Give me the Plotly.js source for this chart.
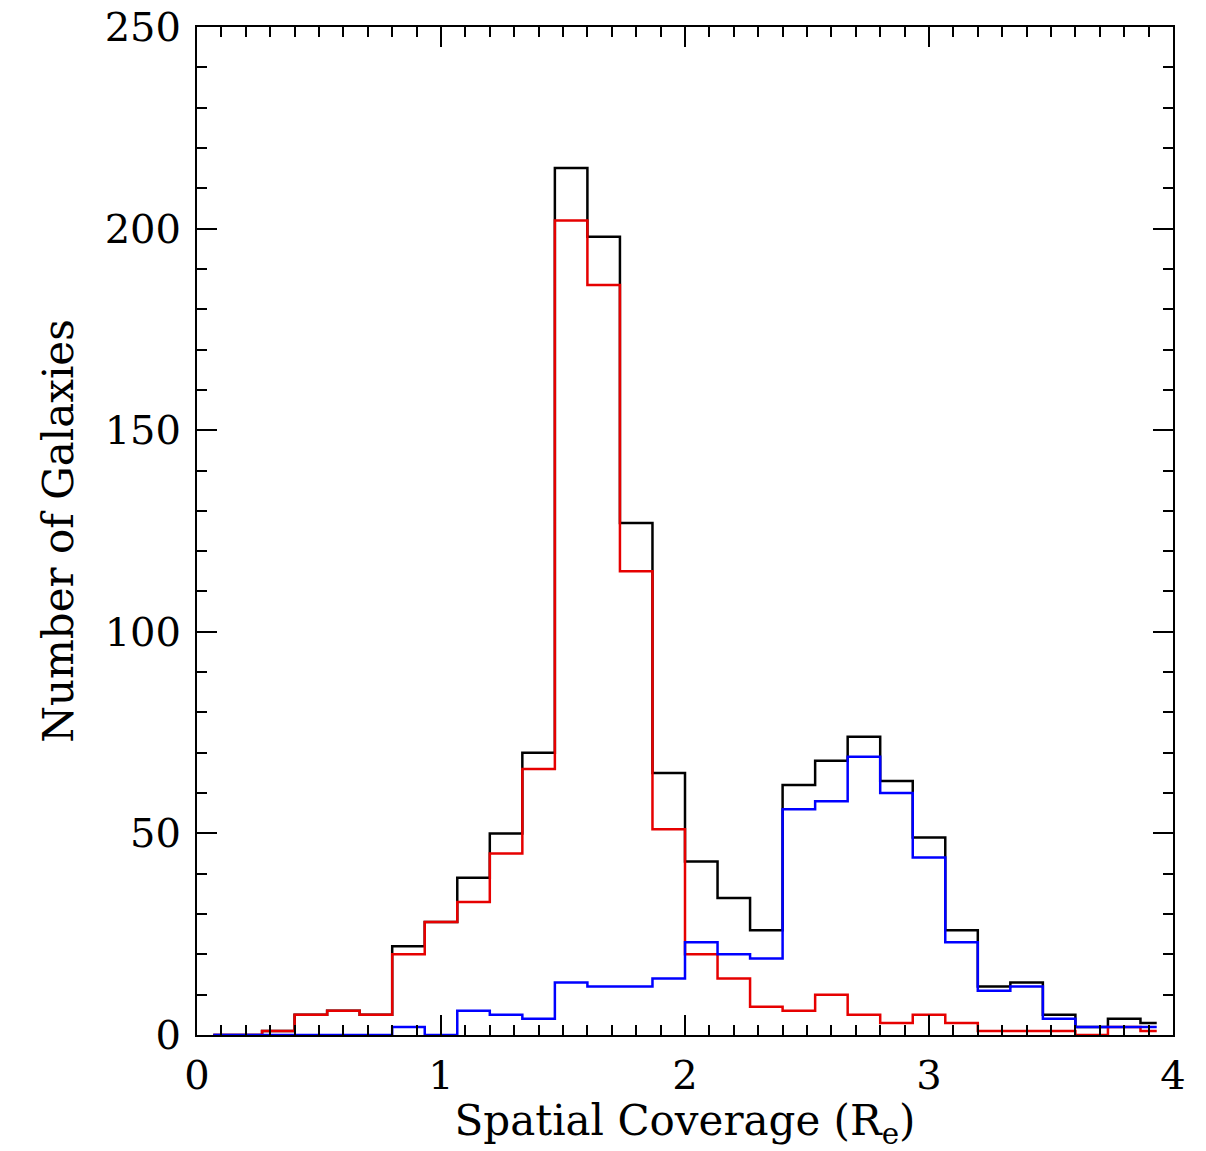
<!DOCTYPE html>
<html>
<head>
<meta charset="utf-8">
<script src="https://cdn.plot.ly/plotly-3.0.1.min.js"></script>
<style>
  html, body { margin: 0; padding: 0; background: #fff; }
  #plot { width: 1206px; height: 1151px; }
</style>
</head>
<body>
<div id="plot"></div>
<script>
// bin centres, width 2/15 (IDL psym=10 style histogram)
var binCenters = [];
for (var k = 0; k < 30; k++) binCenters.push((2 * k + 1) / 15);

var totalCounts = [0, 0, 1, 5, 6, 5, 22, 28, 39, 50, 70, 215, 198, 127, 65,
                   43, 34, 26, 62, 68, 74, 63, 49, 26, 12, 13, 5, 2, 4, 3];
var redCounts   = [0, 0, 1, 5, 6, 5, 20, 28, 33, 45, 66, 202, 186, 115, 51,
                   20, 14, 7, 6, 10, 5, 3, 5, 3, 1, 1, 1, 0, 2, 1];
var blueCounts  = [0, 0, 0, 0, 0, 0, 2, 0, 6, 5, 4, 13, 12, 12, 14,
                   23, 20, 19, 56, 58, 69, 60, 44, 23, 11, 12, 4, 2, 2, 2];

var fnt = "DejaVu Serif, Liberation Serif, serif";

function stepTrace(y, color) {
    return {
        x: binCenters,
        y: y,
        type: 'scatter',
        mode: 'lines',
        line: { shape: 'hvh', color: color, width: 2.5 },
        hoverinfo: 'skip',
        showlegend: false
    };
}

var data = [
    stepTrace(totalCounts, 'black'),
    stepTrace(redCounts, 'rgb(230,0,0)'),
    stepTrace(blueCounts, 'rgb(0,0,255)')
];

var axisCommon = {
    showgrid: false,
    zeroline: false,
    showline: true,
    linecolor: 'black',
    linewidth: 2,
    mirror: 'ticks',
    ticks: 'inside',
    tickcolor: 'black',
    tickwidth: 2,
    ticklen: 20,
    tickfont: { family: fnt, size: 40, color: 'black' }
};

var layout = {
    width: 1206,
    height: 1151,
    margin: { l: 197, r: 33, t: 27, b: 116 },
    paper_bgcolor: 'white',
    plot_bgcolor: 'white',
    xaxis: Object.assign({}, axisCommon, {
        range: [0, 4],
        tickvals: [0, 1, 2, 3, 4],
        ticklabelstandoff: 4,
        minor: { dtick: 0.1, ticks: 'inside', ticklen: 10, tickwidth: 2, tickcolor: 'black' },
        title: { text: 'Spatial Coverage (R<sub>e</sub>)', font: { family: fnt, size: 42, color: 'black' }, standoff: 0 }
    }),
    yaxis: Object.assign({}, axisCommon, {
        range: [0, 250],
        tickvals: [0, 50, 100, 150, 200, 250],
        ticklabelstandoff: 6,
        minor: { dtick: 10, ticks: 'inside', ticklen: 10, tickwidth: 2, tickcolor: 'black' },
        title: { text: 'Number of Galaxies', font: { family: fnt, size: 42, color: 'black' }, standoff: 18 }
    })
};

Plotly.newPlot('plot', data, layout, { displayModeBar: false, staticPlot: true });
</script>
</body>
</html>
